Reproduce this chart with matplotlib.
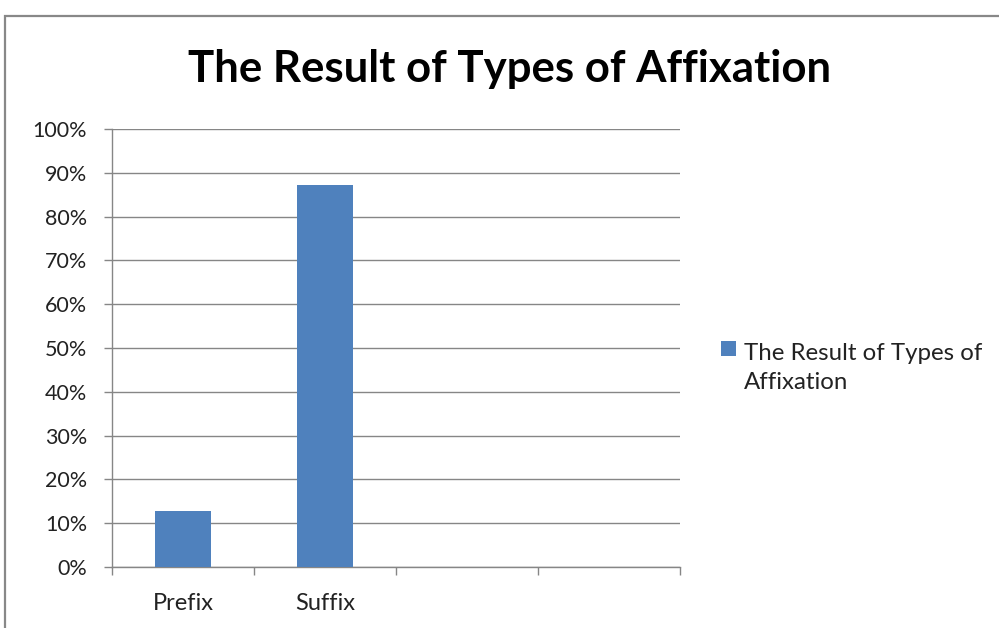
import matplotlib.pyplot as plt
import matplotlib.patches as mpatches
from matplotlib.container import BarContainer
from matplotlib.legend_handler import HandlerPatch
import numpy as np

# data
categories = ['Prefix', 'Suffix', '', '']
values = [12.77, 87.23, np.nan, np.nan]
series_name = 'The Result of Types of\nAffixation'
title = 'The Result of Types of Affixation'

bar_color = '#4F81BD'
grid_color = '#868686'

plt.rcParams['font.family'] = ['Lato', 'DejaVu Sans']

fig = plt.figure(figsize=(9.99, 6.28), dpi=100)
ax = fig.add_axes([112 / 999, 61 / 628, 568 / 999, 438 / 628])

x = np.arange(len(categories))
bars = ax.bar(x, values, width=0.39, color=bar_color, label=series_name, zorder=3)

ax.set_xlim(-0.5, len(categories) - 0.5)
ax.set_ylim(0, 100)
ax.set_yticks(np.arange(0, 101, 10))
ax.set_yticklabels(['{}%'.format(v) for v in range(0, 101, 10)])
ax.yaxis.grid(True, color=grid_color, linewidth=1.0, zorder=0)

# tick marks on category boundaries, labels at the centres
ax.set_xticks(np.arange(-0.5, len(categories), 1.0))
ax.set_xticklabels([])
ax.set_xticks(x, minor=True)
ax.set_xticklabels(categories, minor=True)
ax.tick_params(axis='x', which='major', length=6, width=1, color=grid_color, direction='out')
ax.tick_params(axis='x', which='minor', length=0, pad=19, labelsize=17, labelcolor='#222222')
ax.tick_params(axis='y', length=6, width=1, color=grid_color, pad=12, labelsize=15.5, labelcolor='#222222')

for s in ['top', 'right']:
    ax.spines[s].set_visible(False)
for s in ['left', 'bottom']:
    ax.spines[s].set_color(grid_color)
    ax.spines[s].set_linewidth(1.0)

fig.text(510 / 999, 1 - 69 / 628, title, ha='center', va='center',
         fontsize=31.5, fontweight='bold', color='black')


# legend square aligned with the first text line
def top_square(legend, orig_handle, xdescent, ydescent, width, height, fontsize):
    size = 10.8
    return mpatches.Rectangle((0, height + 2.4), size, size)


def from_first_bar(legend_handle, orig_handle):
    legend_handle.update_from(orig_handle.patches[0])


leg = ax.legend(handler_map={BarContainer: HandlerPatch(patch_func=top_square, update_func=from_first_bar)},
                loc='upper left', bbox_to_anchor=(709 / 999, 1 - 331 / 628),
                bbox_transform=fig.transFigure, frameon=False, fontsize=17.3,
                handlelength=0.63, handletextpad=0.33, borderpad=0, labelcolor='#222222')
for t in leg.get_texts():
    t.set_linespacing(1.45)

# chart border (only top and left edges fall inside the image)
fig.patches.append(mpatches.Rectangle((5 / 999, -0.1), 1.2, 1.1 - 16 / 628,
                                      transform=fig.transFigure, fill=False,
                                      edgecolor='#888888', linewidth=1.6))

fig.savefig('out.png', dpi=100)
